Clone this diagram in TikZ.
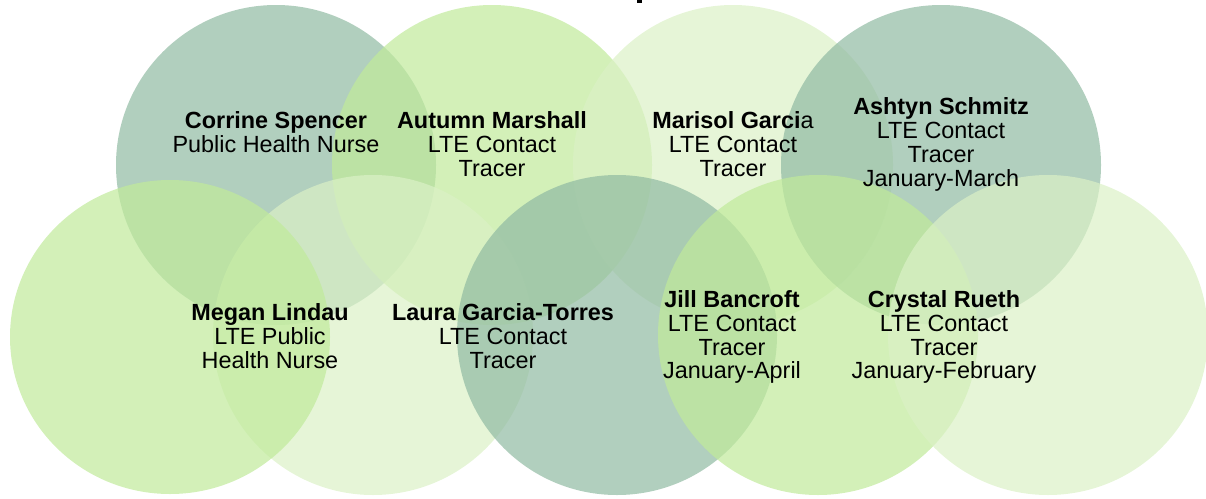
\documentclass[tikz,border=0pt]{standalone}
\usepackage{fontspec}
\setmainfont{Liberation Sans}
\definecolor{tealc}{RGB}{144,186,162}
\definecolor{greenc}{RGB}{192,234,154}
\definecolor{lightc}{RGB}{219,241,198}
\begin{document}
\begin{tikzpicture}[x=1pt,y=-1pt,
  blob/.style={fill opacity=0.7, draw=none},
  lbl/.style={align=center, font=\fontsize{23.4}{23.9}\selectfont, inner sep=0pt, text=black}]
\useasboundingbox (0,0) rectangle (1206,498);
% top row
\fill[blob, fill=tealc]  (276,165) circle[radius=160];
\fill[blob, fill=greenc] (492,165) circle[radius=160];
\fill[blob, fill=lightc] (733,165) circle[radius=160];
\fill[blob, fill=tealc]  (941,165) circle[radius=160];
% bottom row
\fill[blob, fill=lightc] (373,335) circle[radius=160];
\fill[blob, fill=greenc] (170,337) ellipse[x radius=160, y radius=157];
\fill[blob, fill=tealc]  (617,335) circle[radius=160];
\fill[blob, fill=greenc] (818,335) circle[radius=160];
\fill[blob, fill=lightc] (1048,335) circle[radius=160];
% fragment of cut-off title
\fill[black] (637,0) rectangle (642,2.5);
% labels
\node[lbl] (corrine) at (276,132) {\textbf{Corrine Spencer}\\Public Health Nurse};
\node[lbl] (autumn)  at (492,144) {\textbf{Autumn Marshall}\\LTE Contact\\Tracer};
\node[lbl] (marisol) at (733,144) {\textbf{Marisol Garci}a\\LTE Contact\\Tracer};
\node[lbl] (ashtyn)  at (941,144.5) {\textbf{Ashtyn Schmitz}\\LTE Contact\\Tracer\\January-March};
\node[lbl] (megan)   at (270,336) {\textbf{Megan Lindau}\\LTE Public\\Health Nurse};
\node[lbl] (laura)   at (503,336) {\textbf{Laura Garcia-Torres}\\LTE Contact\\Tracer};
\node[lbl] (jill)    at (732,337) {\textbf{Jill Bancroft}\\LTE Contact\\Tracer\\January-April};
\node[lbl] (crystal) at (944,337) {\textbf{Crystal Rueth}\\LTE Contact\\Tracer\\January-February};
\end{tikzpicture}
\end{document}
